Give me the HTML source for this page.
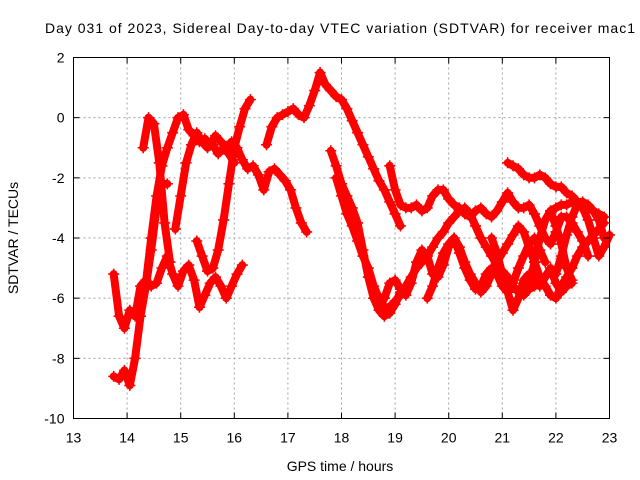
<!DOCTYPE html>
<html><head><meta charset="utf-8"><style>
html,body{margin:0;padding:0;background:#fff}
svg{display:block;font-family:"Liberation Sans",sans-serif}
</style></head><body>
<svg id="chart" width="640" height="480" viewBox="0 0 640 480">
<rect width="640" height="480" fill="#fff"/>
<text x="340" y="33" text-anchor="middle" font-size="14" textLength="590">Day 031 of 2023, Sidereal Day-to-day VTEC variation (SDTVAR) for receiver mac1</text>
<g id="grid"></g>
<g id="series"></g>
<rect x="73.5" y="57.5" width="536" height="361" fill="none" stroke="#000" stroke-width="1"/>
<g id="axes"></g>
<text x="340" y="471" text-anchor="middle" font-size="14">GPS time / hours</text>
<text x="0" y="0" transform="translate(18,238) rotate(-90)" text-anchor="middle" font-size="14">SDTVAR / TECUs</text>
</svg>
<script>
const xTicks = [13,14,15,16,17,18,19,20,21,22,23];
const yTicks = [2,0,-2,-4,-6,-8,-10];
const trackStarts = [13.75,13.75,14.35,14.9,15.3,14.3,16.6,17.8,17.9,18.9,21.1,21.9,18.7,19.6,20.8,21.5,22.0];
const track0 = [-8.6,-8.7,-8.4,-8.9,-8.0,-6.6,-5.6,-4.4,-3.0,-2.2,-2.2];
const track1 = [-5.2,-6.6,-7.0,-6.4,-6.6,-5.6,-5.4,-5.6,-5.5,-5.0,-4.6,-5.2,-5.6,-5.1,-4.9,-5.4,-6.3,-5.9,-5.5,-5.3,-5.6,-6.0,-5.6,-5.2,-4.9];
const track2 = [-5.5,-4.0,-2.6,-1.6,-1.0,-0.5,0.0,0.1,-0.4,-0.6,-0.8,-0.7,-0.9,-0.6,-0.8,-1.0,-0.8,-1.0,-1.4,-1.7,-1.6,-1.9,-2.4,-1.8,-1.7,-1.9,-2.1,-2.4,-3.0,-3.5,-3.8];
const track3 = [-3.7,-2.6,-1.5,-0.9,-0.5,-0.8,-1.0,-0.9,-1.2,-1.0,-1.2,-1.5];
const track4 = [-4.1,-4.6,-5.1,-5.0,-4.4,-3.4,-2.2,-1.0,-0.3,0.3,0.6];
const track5 = [-1.0,0.0,-0.2,-1.5,-3.5,-4.8];
const track6 = [-0.9,-0.3,0.0,0.1,0.2,0.3,0.1,0.0,0.4,0.9,1.5,1.1,0.9,0.7,0.6,0.3,-0.1,-0.5,-0.9,-1.3,-1.7,-2.1,-2.4,-2.8,-3.2,-3.6];
const track7 = [-1.1,-1.6,-2.2,-2.6,-3.0,-3.5,-4.4,-5.3,-6.0,-6.4,-6.6,-6.5,-6.2,-5.8];
const track8 = [-2.0,-2.6,-3.2,-3.6,-4.1,-4.6,-5.0,-5.6,-6.0,-6.3,-6.3,-6.1,-5.9,-5.6,-5.3,-5.0,-4.8,-4.6,-4.3,-4.0,-3.8,-3.5,-3.3,-3.1,-3.0,-3.2,-3.6,-4.0,-4.3,-4.6,-4.9,-5.1,-5.3,-5.6,-5.8,-5.9,-5.7,-5.6];
const track9 = [-1.6,-2.4,-2.9,-3.0,-3.0,-2.9,-3.1,-3.0,-2.6,-2.4,-2.4,-2.7,-2.9,-3.0,-3.2,-3.3,-3.1,-3.0,-3.2,-3.3,-3.1,-2.8,-2.5,-2.8,-3.0,-3.0,-2.9,-3.2,-3.6,-4.0,-4.2,-3.8,-3.3,-3.3,-3.5,-3.8,-4.1,-4.6];
const track10 = [-1.5,-1.6,-1.7,-1.9,-2.0,-2.0,-1.9,-2.0,-2.2,-2.3,-2.3,-2.5,-2.6,-2.8,-2.9,-3.0,-3.1,-3.2,-3.3];
const track11 = [-3.1,-3.0,-2.9,-2.9,-2.8,-2.8,-2.8,-2.9,-3.1,-3.4,-4.0];
const track12 = [-6.3,-6.0,-5.5,-5.4,-5.7,-5.9,-5.5,-4.8,-4.4,-4.6,-5.2,-5.3,-4.9,-4.3,-4.0,-4.5,-5.0,-5.4,-5.7,-5.6,-5.2,-5.0,-5.2,-5.6,-5.8,-5.5,-5.0,-4.6,-4.2,-4.0,-4.4,-4.8];
const track13 = [-6.0,-5.6,-5.0,-4.5,-4.2,-4.0,-4.3,-4.8,-5.2,-5.5,-5.8,-5.6,-5.2,-4.8,-4.5,-4.2,-3.9,-3.6,-3.8,-4.3,-4.8,-5.3,-5.6,-5.9,-6.0,-5.6,-5.3,-5.0,-4.6,-4.3,-4.1,-3.9,-3.7,-3.5];
const track14 = [-4.0,-4.5,-5.2,-5.8,-6.4,-6.0,-5.4,-5.2,-5.5,-5.6,-5.3,-5.0,-5.5,-5.8,-5.6,-5.5];
const track15 = [-5.6,-4.8,-4.0,-3.4,-3.1,-3.6,-4.2,-5.0,-5.4];
const track16 = [-5.2,-4.6,-3.9,-3.3,-2.9,-3.0,-3.4,-4.0,-4.6,-4.3,-3.9];
const tracks = [track0,track1,track2,track3,track4,track5,track6,track7,track8,track9,track10,track11,track12,track13,track14,track15,track16];
const timeStep = 0.1;

const X0=73.5, X1=609.5, Y0=57.5, Y1=418.5;
function xs(t){return X0+(t-13)/(23-13)*(X1-X0);}
function ys(v){return Y0+(2-v)/(2-(-10))*(Y1-Y0);}
const NS="http://www.w3.org/2000/svg";
function mk(tag,attrs,parent){const e=document.createElementNS(NS,tag);for(const k in attrs)e.setAttribute(k,attrs[k]);parent.appendChild(e);return e;}
const grid=document.getElementById('grid'), axes=document.getElementById('axes'), series=document.getElementById('series');

xTicks.forEach(t=>{
  const x=xs(t);
  if(t>13&&t<23){const g=mk('line',{x1:x,y1:Y0,x2:x,y2:Y1,stroke:'#a0a0a0','stroke-dasharray':'2,3'},grid);
  
  }
  const a=mk('line',{x1:x,y1:Y1,x2:x,y2:Y1-6,stroke:'#000'},axes);
  
  
  const b=mk('line',{x1:x,y1:Y0,x2:x,y2:Y0+6,stroke:'#000'},axes);
  
  
  const l=mk('text',{x:x,y:Y1+24,'text-anchor':'middle','font-size':'14'},axes);
  l.textContent=t;
  
  
});
yTicks.forEach(v=>{
  const y=ys(v);
  if(v<2&&v>-10){const g=mk('line',{x1:X0,y1:y,x2:X1,y2:y,stroke:'#a0a0a0','stroke-dasharray':'2,3'},grid);
  
  }
  const a=mk('line',{x1:X0,y1:y,x2:X0+6,y2:y,stroke:'#000'},axes);
  
  
  const b=mk('line',{x1:X1,y1:y,x2:X1-6,y2:y,stroke:'#000'},axes);
  
  
  const l=mk('text',{x:X0-9,y:y+5,'text-anchor':'end','font-size':'14'},axes);
  l.textContent=v;
  
  
});

tracks.forEach((vals,i)=>{
  const g=mk('g',{},series);
  
  
  const pts=vals.map((v,j)=>[xs(trackStarts[i]+j*timeStep),ys(v)]);
  const pl=mk('polyline',{points:pts.map(p=>p[0].toFixed(1)+','+p[1].toFixed(1)).join(' '),fill:'none',stroke:'#ff0000','stroke-width':'8','stroke-linejoin':'round','stroke-linecap':'round'},g);
  
  
  pts.forEach(p=>{
    const m=mk('path',{d:`M${p[0]-5.5},${p[1]}h11M${p[0]},${p[1]-5.5}v11`,stroke:'#ff0000','stroke-width':'1.6',fill:'none'},g);
    
    
  });
});
</script>
</body></html>
